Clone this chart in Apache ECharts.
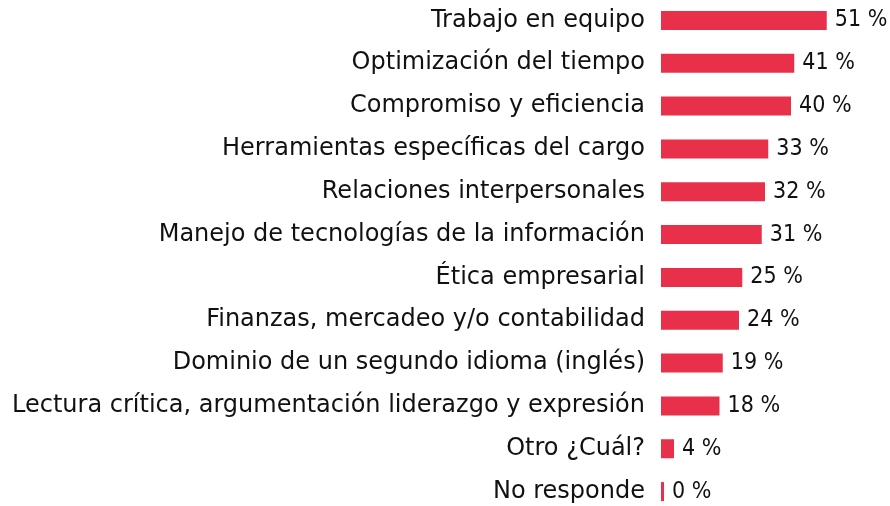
<!DOCTYPE html>
<html>
<head>
<meta charset="utf-8">
<script src="https://cdn.jsdelivr.net/npm/echarts@6/dist/echarts.min.js"></script>
<style>
html,body{margin:0;padding:0;background:#fff;overflow:hidden;}
#chart{width:890px;height:514px;margin-top:-1px;}
</style>
</head>
<body>
<div id="chart"></div>
<script>
const categories = [
  "Trabajo en equipo",
  "Optimización del tiempo",
  "Compromiso y eficiencia",
  "Herramientas específicas del cargo",
  "Relaciones interpersonales",
  "Manejo de tecnologías de la información",
  "Ética empresarial",
  "Finanzas, mercadeo y/o contabilidad",
  "Dominio de un segundo idioma (inglés)",
  "Lectura crítica, argumentación liderazgo y expresión",
  "Otro ¿Cuál?",
  "No responde"
];
const values = [51, 41, 40, 33, 32, 31, 25, 24, 19, 18, 4, 0];
const xMax = 60;

const chart = echarts.init(document.getElementById('chart'), null, {renderer: 'canvas'});
chart.setOption({
  animation: false,
  backgroundColor: '#ffffff',
  grid: {left: 661, right: 34, top: 0, bottom: 0, containLabel: false},
  xAxis: {
    type: 'value', min: 0, max: xMax, show: false
  },
  yAxis: {
    type: 'category',
    data: categories,
    inverse: true,
    axisLine: {show: false},
    axisTick: {show: false},
    splitLine: {show: false},
    axisLabel: {
      margin: 16,
      color: '#111',
      fontFamily: 'DejaVu Sans',
      fontSize: 24
    }
  },
  series: [{
    type: 'bar',
    data: values,
    barWidth: 19,
    barMinHeight: 3,
    itemStyle: {color: '#E8304B'},
    label: {
      show: true,
      position: 'right',
      distance: 8,
      color: '#111',
      fontFamily: 'DejaVu Sans Condensed',
      fontSize: 23,
      formatter: p => p.value + ' %'
    }
  }]
});
</script>
</body>
</html>
